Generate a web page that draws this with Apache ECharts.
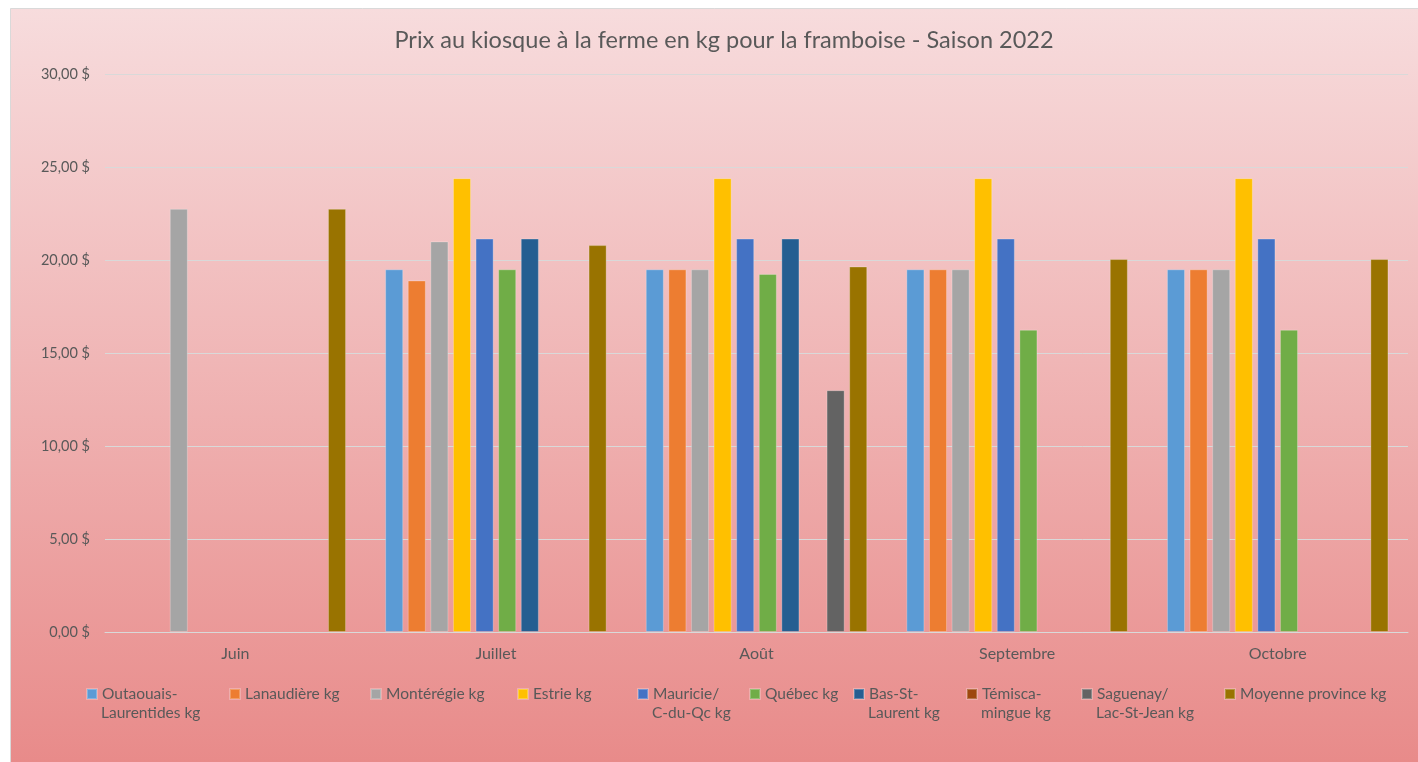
<!DOCTYPE html>
<html><head><meta charset="utf-8">
<script src="https://cdn.jsdelivr.net/npm/echarts@6/dist/echarts.min.js"></script>
<style>html,body{margin:0;padding:0;background:#fff}#c{width:1418px;height:762px}</style>
</head><body><div id="c"></div>
<script>
const categories = ['Juin', 'Juillet', 'Août', 'Septembre', 'Octobre'];
const seriesNames = ['Outaouais-Laurentides kg', 'Lanaudière kg', 'Montérégie kg', 'Estrie kg', 'Mauricie/C-du-Qc kg', 'Québec kg', 'Bas-St-Laurent kg', 'Témisca-mingue kg', 'Saguenay/Lac-St-Jean kg', 'Moyenne province kg'];
const legendLine1 = ['Outaouais-', 'Lanaudière kg', 'Montérégie kg', 'Estrie kg', 'Mauricie/', 'Québec kg', 'Bas-St-', 'Témisca-', 'Saguenay/', 'Moyenne province kg'];
const legendLine2 = ['Laurentides kg', '', '', '', 'C-du-Qc kg', '', 'Laurent kg', 'mingue kg', 'Lac-St-Jean kg', ''];
const colors = ['#5B9BD5', '#ED7D31', '#A5A5A5', '#FFC000', '#4472C4', '#70AD47', '#255E91', '#9E480E', '#636363', '#997300'];
const outaouais = [null, 19.50, 19.50, 19.50, 19.50];
const lanaudiere = [null, 18.90, 19.50, 19.50, 19.50];
const monteregie = [22.75, 21.00, 19.50, 19.50, 19.50];
const estrie = [null, 24.40, 24.40, 24.40, 24.40];
const mauricie = [null, 21.15, 21.15, 21.15, 21.15];
const quebec = [null, 19.50, 19.25, 16.25, 16.25];
const basStLaurent = [null, 21.15, 21.15, null, null];
const temiscamingue = [null, null, null, null, null];
const saguenay = [null, null, 13.00, null, null];
const moyenne = [22.75, 20.80, 19.65, 20.05, 20.05];
const seriesValues = [outaouais, lanaudiere, monteregie, estrie, mauricie, quebec, basStLaurent, temiscamingue, saguenay, moyenne];

const legendX = [86, 229, 370, 517, 637, 749, 853, 966, 1081, 1224];
const txt = '#595959';
const font = 'Lato';
const legTop = 686, legFs = 15.5;

const chart = echarts.init(document.getElementById('c'));
const legends = seriesNames.map((n, i) => ({
  left: legendX[i], top: legTop, orient: 'horizontal', itemWidth: 10, itemHeight: 10, itemGap: 0,
  icon: 'rect', selectedMode: false, padding: 0,
  data: [n],
  formatter: () => legendLine1[i],
  textStyle: { color: txt, fontFamily: font, fontSize: legFs }
}));
const secondLines = legendLine2.map((t, i) => ({
  type: 'text', left: legendX[i] + 15, top: legTop + 19, silent: true,
  style: { text: t, fill: txt, font: legFs + 'px ' + font }
}));

chart.setOption({
  animation: false,
  color: colors,
  graphic: [{
    type: 'rect', z: -10, silent: true,
    shape: { x: 10.5, y: 8.5, width: 1410, height: 760 },
    style: {
      fill: new echarts.graphic.LinearGradient(0, 0, 0, 1, [
        { offset: 0, color: '#F7DCDD' }, { offset: 1, color: '#E88A89' }
      ]),
      stroke: '#D9D9D9', lineWidth: 1
    }
  }].concat(secondLines),
  title: {
    text: 'Prix au kiosque à la ferme en kg pour la framboise - Saison 2022',
    left: 719, top: 23, textAlign: 'center',
    textStyle: { color: txt, fontFamily: font, fontSize: 23.5, fontWeight: 'normal' }
  },
  legend: legends,
  grid: { left: 105, right: 10, top: 74, bottom: 130, containLabel: false },
  xAxis: {
    type: 'category', data: categories,
    axisLine: { lineStyle: { color: '#D9D9D9' } },
    axisTick: { show: false },
    axisLabel: { color: txt, fontFamily: font, fontSize: 16, margin: 14 }
  },
  yAxis: {
    type: 'value', min: 0, max: 30, interval: 5,
    axisLine: { show: false }, axisTick: { show: false },
    splitLine: { lineStyle: { color: '#D9D9D9', width: 1 } },
    axisLabel: { color: txt, fontFamily: font, fontSize: 14.5, margin: 15,
      formatter: v => v.toFixed(2).replace('.', ',') + ' $' }
  },
  series: seriesNames.map((n, i) => ({
    name: n, type: 'bar', data: seriesValues[i],
    barGap: '25%', barCategoryGap: '15%',
    itemStyle: { color: colors[i], borderColor: 'rgba(255,255,255,0.25)', borderWidth: 1 }
  }))
});
</script></body></html>
